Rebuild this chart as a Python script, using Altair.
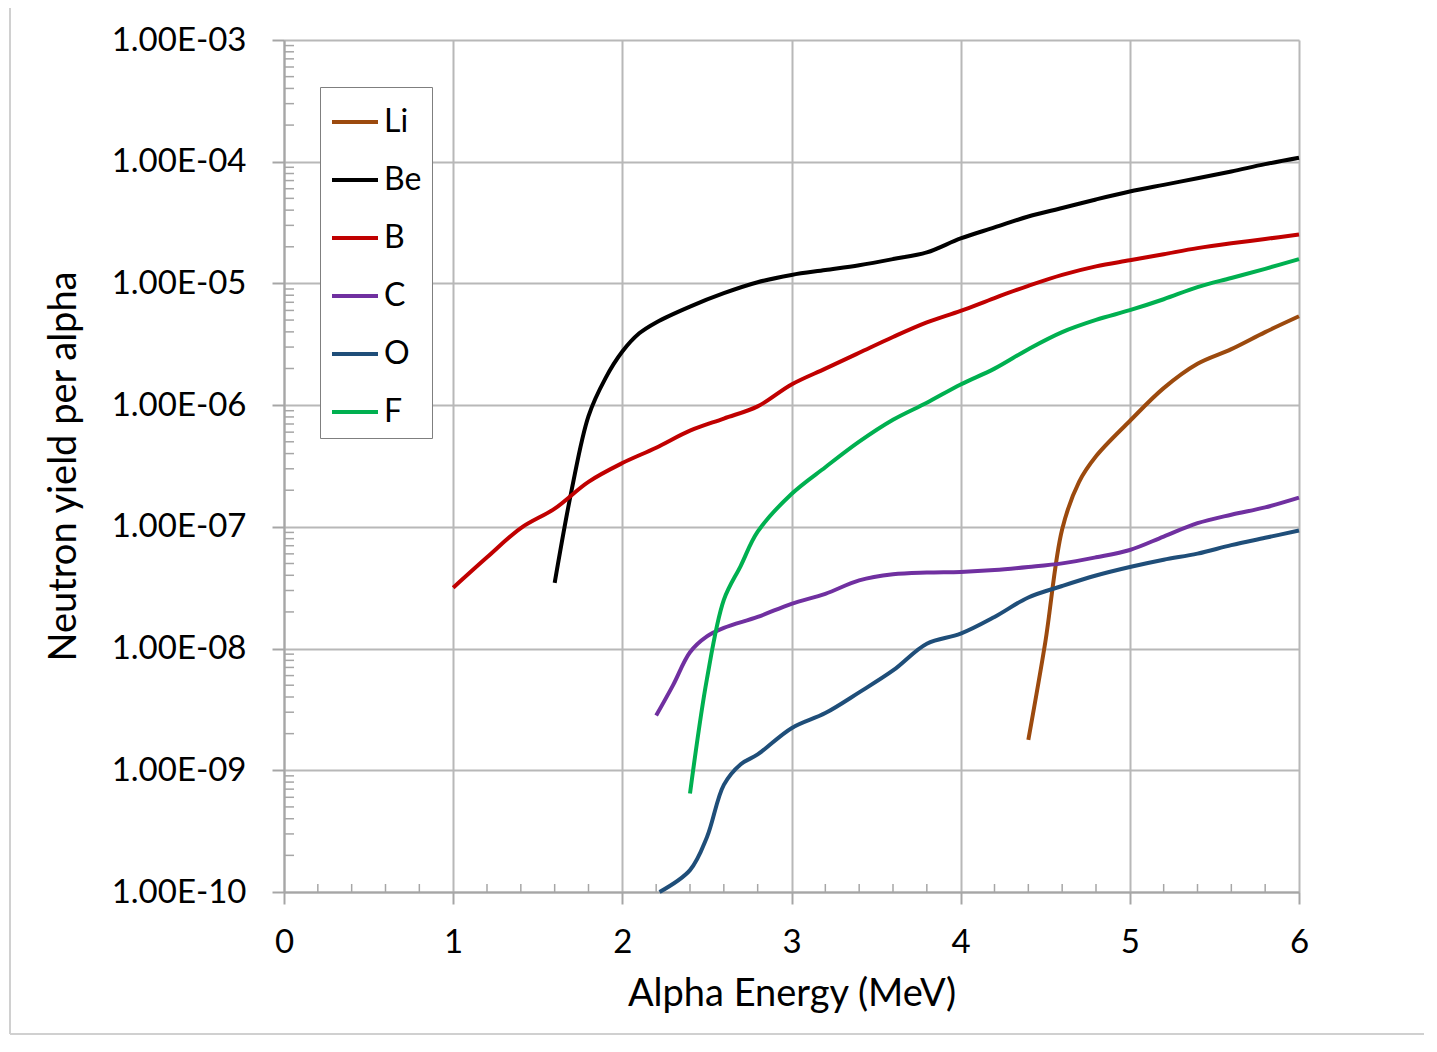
import altair as alt
import pandas as pd

# ---------------- data ----------------
SERIES = ["Li", "Be", "B", "C", "O", "F"]
COLORS = ["#9C4A0E", "#000000", "#C00000", "#7030A0", "#1F4E79", "#00B050"]

# alpha energy (MeV) and log10(neutron yield per alpha)
LI_E = [4.4, 4.5, 4.6, 4.7, 4.8, 5.0, 5.2, 5.4, 5.6, 5.8, 6.0]
LI_LOG = [-8.75, -7.95, -7.02, -6.63, -6.42, -6.13, -5.86, -5.66, -5.54, -5.40, -5.27]

BE_E = [1.6, 1.7, 1.8, 1.9, 2.0, 2.1, 2.2, 2.4, 2.6, 2.8, 3.0, 3.2, 3.4, 3.6, 3.8,
        4.0, 4.2, 4.4, 4.6, 4.8, 5.0, 5.2, 5.4, 5.6, 5.8, 6.0]
BE_LOG = [-7.46, -6.70, -6.09, -5.78, -5.56, -5.41, -5.32, -5.19, -5.08, -4.99, -4.93,
          -4.89, -4.85, -4.80, -4.745, -4.63, -4.54, -4.45, -4.38, -4.31, -4.245,
          -4.19, -4.136, -4.08, -4.02, -3.967]

B_E = [1.0, 1.2, 1.4, 1.6, 1.8, 2.0, 2.2, 2.4, 2.6, 2.8, 3.0, 3.2, 3.4, 3.6, 3.8,
       4.0, 4.2, 4.4, 4.6, 4.8, 5.0, 5.2, 5.4, 5.6, 5.8, 6.0]
B_LOG = [-7.50, -7.25, -7.01, -6.85, -6.63, -6.476, -6.35, -6.21, -6.11, -6.01, -5.83,
         -5.70, -5.57, -5.44, -5.32, -5.226, -5.12, -5.02, -4.93, -4.86, -4.81,
         -4.76, -4.71, -4.67, -4.635, -4.598]

C_E = [2.2, 2.3, 2.4, 2.5, 2.6, 2.8, 3.0, 3.2, 3.4, 3.6, 3.8, 4.0, 4.2, 4.4, 4.6,
       4.8, 5.0, 5.2, 5.4, 5.6, 5.8, 6.0]
C_LOG = [-8.55, -8.30, -8.03, -7.90, -7.83, -7.74, -7.632, -7.55, -7.44, -7.39, -7.375,
         -7.37, -7.355, -7.33, -7.30, -7.25, -7.19, -7.08, -6.97, -6.90, -6.84, -6.76]

O_E = [2.22, 2.4, 2.5, 2.6, 2.7, 2.8, 3.0, 3.2, 3.4, 3.6, 3.8, 4.0, 4.2, 4.4, 4.6,
       4.8, 5.0, 5.2, 5.4, 5.6, 5.8, 6.0]
O_LOG = [-10.0, -9.82, -9.55, -9.12, -8.95, -8.87, -8.654, -8.53, -8.36, -8.18, -7.96,
         -7.877, -7.74, -7.58, -7.486, -7.40, -7.33, -7.27, -7.22, -7.15, -7.09, -7.03]

F_E = [2.4, 2.5, 2.6, 2.7, 2.8, 3.0, 3.2, 3.4, 3.6, 3.8, 4.0, 4.2, 4.4, 4.6, 4.8,
       5.0, 5.2, 5.4, 5.6, 5.8, 6.0]
F_LOG = [-9.19, -8.25, -7.60, -7.32, -7.04, -6.73, -6.51, -6.30, -6.12, -5.98, -5.83,
         -5.70, -5.54, -5.40, -5.30, -5.22, -5.13, -5.03, -4.955, -4.88, -4.80]

X_TICKS = [0, 1, 2, 3, 4, 5, 6]
X_MINOR = [0.2, 0.4, 0.6, 0.8, 1.2, 1.4, 1.6, 1.8, 2.2, 2.4, 2.6, 2.8, 3.2, 3.4, 3.6,
           3.8, 4.2, 4.4, 4.6, 4.8, 5.2, 5.4, 5.6, 5.8]
Y_TICKS = [1e-10, 1e-9, 1e-8, 1e-7, 1e-6, 1e-5, 1e-4, 1e-3]
Y_MINOR = [k * d for d in Y_TICKS[:-1] for k in range(2, 10)]

rows = []
for name, xs, ls in [("Li", LI_E, LI_LOG), ("Be", BE_E, BE_LOG), ("B", B_E, B_LOG),
                     ("C", C_E, C_LOG), ("O", O_E, O_LOG), ("F", F_E, F_LOG)]:
    for x, l in zip(xs, ls):
        rows.append({"series": name, "energy": x, "yield": 10 ** l})
df = pd.DataFrame(rows)

# ---------------- chart ----------------
W, H = 1015, 852
FONT = "Lato"
GRID = "#b8b8b8"
AXIS = "#a6a6a6"

xscale = alt.Scale(domain=[0, 6], nice=False, zero=False)
yscale = alt.Scale(type="log", domain=[1e-10, 1e-3], nice=False)

ylabel = ("'1.00E-' + (round(-log(datum.value)/LN10) < 10 ? '0' : '') + "
          "round(-log(datum.value)/LN10)")

STYLE = dict(grid=True, gridColor=GRID, gridWidth=2, domainColor=AXIS, domainWidth=2,
             tickColor=AXIS, tickWidth=2, tickSize=12, labelFlush=False,
             labelFont=FONT, labelFontSize=33, labelColor="#000000",
             titleFont=FONT, titleFontSize=38, titleFontWeight="normal",
             titleColor="#000000")

XAXIS = alt.Axis(values=X_TICKS, title="Alpha Energy (MeV)", format="d",
                 labelPadding=22, labelBaseline="top",
                 titleX=507.5, titleY=113, titleBaseline="alphabetic",
                 titleAlign="center", titleAnchor="middle", **STYLE)
YAXIS = alt.Axis(values=Y_TICKS, labelExpr=ylabel, title="Neutron yield per alpha",
                 labelPadding=26,
                 titleX=-209, titleY=426, titleAngle=270,
                 titleBaseline="alphabetic", titleAlign="center", titleAnchor="middle",
                 **STYLE)

lines = alt.Chart(df).mark_line(strokeWidth=4, interpolate="catmull-rom").encode(
    x=alt.X("energy:Q", scale=xscale, axis=XAXIS),
    y=alt.Y("yield:Q", scale=yscale, axis=YAXIS),
    color=alt.Color("series:N", scale=alt.Scale(domain=SERIES, range=COLORS),
                    legend=alt.Legend(title=None, orient="none", legendX=36, legendY=47,
                                      symbolType="stroke", symbolSize=2116,
                                      symbolStrokeWidth=4, labelFont=FONT,
                                      labelFontSize=32, labelColor="#000000",
                                      labelOffset=4, rowPadding=17, padding=10,
                                      strokeColor="#7f7f7f", fillColor="#ffffff",
                                      cornerRadius=0)),
)

ymin = alt.Chart(pd.DataFrame({"v": Y_MINOR})).mark_rule(color=AXIS, strokeWidth=1.5).encode(
    y=alt.Y("v:Q", scale=yscale, axis=YAXIS),
    x=alt.value(0), x2=alt.value(10),
)
xmin = alt.Chart(pd.DataFrame({"u": X_MINOR})).mark_rule(color=AXIS, strokeWidth=1.5).encode(
    x=alt.X("u:Q", scale=xscale, axis=XAXIS),
    y=alt.value(H), y2=alt.value(H - 8),
)

one = pd.DataFrame({"k": [0]})
BORDER = "#d0d0d0"
top_border = alt.Chart(one).mark_rule(color=BORDER, strokeWidth=2).encode(
    x=alt.value(-274), x2=alt.value(1150), y=alt.value(-33))
left_border = alt.Chart(one).mark_rule(color=BORDER, strokeWidth=2).encode(
    x=alt.value(-274), y=alt.value(-33), y2=alt.value(994))
bottom_border = alt.Chart(one).mark_rule(color=BORDER, strokeWidth=2).encode(
    x=alt.value(-274), x2=alt.value(1150), y=alt.value(994))

chart = alt.layer(lines, ymin, xmin, top_border, left_border, bottom_border).properties(
    width=W, height=H,
    autosize=alt.AutoSizeParams(type="none"),
    padding={"left": 276, "top": 32, "right": 125, "bottom": 144},
    background="white",
).configure_view(stroke=None)

chart.save("out.html", embed_options={"renderer": "svg", "actions": False})
